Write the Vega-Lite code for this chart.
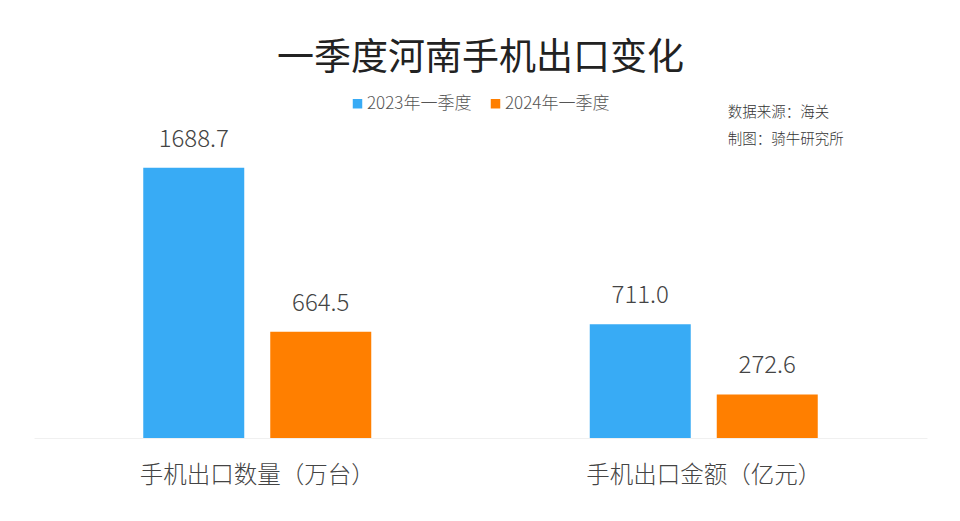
{
"$schema":"https://vega.github.io/schema/vega-lite/v6.json",
"width":893,"height":438,
"autosize":{"type":"none"},
"padding":{"left":34,"top":0,"right":33,"bottom":83},
"background":"white",
"config":{"font":"Noto Sans CJK SC","view":{"stroke":null}},
"title":{"text":"一季度河南手机出口变化","fontSize":37,"fontWeight":"normal","color":"#222222","font":"Noto Sans CJK SC","anchor":"middle","frame":"group","offset":-78},
"datasets":{
"bars":[
{"group":"手机出口数量\uff08万台\uff09","period":"2023年一季度","value":1688.7,"label":"1688.7"},
{"group":"手机出口数量\uff08万台\uff09","period":"2024年一季度","value":664.5,"label":"664.5"},
{"group":"手机出口金额\uff08亿元\uff09","period":"2023年一季度","value":711.0,"label":"711.0"},
{"group":"手机出口金额\uff08亿元\uff09","period":"2024年一季度","value":272.6,"label":"272.6"}],
"notes":[
{"group":"手机出口金额\uff08亿元\uff09","y":2030,"note":"数据来源\uff1a海关"},
{"group":"手机出口金额\uff08亿元\uff09","y":1860,"note":"制图\uff1a骑牛研究所"}]
},
"data":{"name":"bars"},
"encoding":{
"x":{"field":"group","type":"nominal","sort":null,"scale":{"paddingInner":0,"paddingOuter":0},
"axis":{"title":null,"labelAngle":0,"labelFontSize":23.5,"labelLimit":400,"labelColor":"#444444","labelPadding":25,"ticks":false,"domainColor":"#f0f0f0","domainWidth":1,"labelFont":"Noto Sans CJK SC","labelFontWeight":300}},
"y":{"type":"quantitative","scale":{"domain":[0,2737.5],"nice":false},"axis":null}
},
"layer":[
{"mark":{"type":"bar","width":101},
"encoding":{
"y":{"field":"value","type":"quantitative","scale":{"domain":[0,2737.5],"nice":false},"axis":null},
"xOffset":{"field":"period","type":"nominal","sort":null,"scale":{"domain":["2023年一季度","2024年一季度"],"range":[96.25,350.25]}},
"color":{"field":"period","type":"nominal","scale":{"domain":["2023年一季度","2024年一季度"],"range":["#38ABF5","#FF7F00"]},
"legend":{"title":null,"orient":"none","legendX":315,"legendY":95,"direction":"horizontal","symbolType":"square","symbolSize":90,"labelFontSize":17,"labelColor":"#555555","columnPadding":15,"labelOffset":1,"symbolStrokeWidth":0,"labelFont":"Noto Sans CJK SC","labelFontWeight":300}}
}},
{"mark":{"type":"text","baseline":"bottom","fontSize":24,"fontWeight":300,"color":"#444444","dy":-16,"font":"Noto Sans CJK SC"},
"encoding":{
"y":{"field":"value","type":"quantitative"},
"xOffset":{"field":"period","type":"nominal","sort":null,"scale":{"domain":["2023年一季度","2024年一季度"],"range":[96.25,350.25]}},
"text":{"field":"label","type":"nominal"}
}},
{"data":{"name":"notes"},
"mark":{"type":"text","align":"left","baseline":"middle","fontSize":14.5,"fontWeight":300,"color":"#333333","dx":24,"font":"Noto Sans CJK SC"},
"encoding":{
"x":{"field":"group","type":"nominal","sort":null},
"y":{"field":"y","type":"quantitative"},
"text":{"field":"note","type":"nominal"}
}}
]
}
